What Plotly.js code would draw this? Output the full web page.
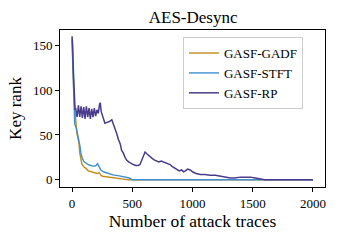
<!DOCTYPE html>
<html><head><meta charset="utf-8">
<script src="https://cdn.plot.ly/plotly-3.0.1.min.js"></script>
<style>html,body{margin:0;padding:0;background:#fff;}#c{width:340px;height:240px;}</style>
</head><body><div id="c"></div>
<script>
const gadfX = [0,5,10,17,25,31,40,50,58,64,72,81,100,114,135,156,190,210,225,240,253,300,336,380,433,470,2000];
const gadfY = [158,130,110,89,75,65,52,46,40,30,22,18,14,13,10,9,8,7,8,5,4,3,2.6,2,1,0,0];
const stftX = [0,5,10,15,22,35,45,55,65,73,85,100,120,142,183,200,211,220,239,260,295,340,392,440,475,500,2000];
const stftY = [155,130,100,80,62,58,52,45,38,30,24,20,18,16.5,15,16,18,16,11,9,7.4,5.5,4.4,3,2,0,0];
const rpX = [0,5,10,15,20,25,30,42,53,64,75,86,97,108,119,130,141,152,163,174,185,196,207,218,228,234,242,252,262,273,290,311,330,353,370,385,400,411,425,440,453,470,490,508,530,550,564,580,595,606,620,635,648,665,685,703,720,740,758,775,795,814,830,850,870,890,910,925,940,960,981,1000,1030,1064,1100,1148,1190,1231,1270,1314,1350,1398,1440,1481,1520,1564,1600,2000];
const rpY = [160,150,125,100,85,78,80,70,83,70,82,69,81,68,82,70,80,68,79,70,80,71,78,74,84,86,76,71,66,63,64,65,67,59,52,45,40,33,30,25,22,20,18,17,16,16,17,22,28,31,29,27,26,24,22,21,20,21,20,19,18,17,15,13,11,10,11,9,10,12,11,9,7,6,6,5,5,4,3,2,2,3,3,3,2,1,0,0];
const names = ["GASF-GADF","GASF-STFT","GASF-RP"];
const colors = ["#c18c1c","#3f8fd2","#4b3b8c"];
const xTicks = [0,500,1000,1500,2000];
const yTicks = [0,50,100,150];

const F = "Liberation Serif, Times New Roman, serif";
const traces = [
  {x: gadfX, y: gadfY, name: names[0], mode: "lines", line: {color: colors[0], width: 1.4}},
  {x: stftX, y: stftY, name: names[1], mode: "lines", line: {color: colors[1], width: 1.4}},
  {x: rpX, y: rpY, name: names[2], mode: "lines", line: {color: colors[2], width: 1.5}}
];
const axisCommon = {showgrid: false, zeroline: false, showline: true, mirror: true, linecolor: "#000", linewidth: 1,
  ticks: "outside", ticklen: 4, tickwidth: 1, tickcolor: "#000", tickfont: {family: F, size: 13, color: "#000"}};
const layout = {
  width: 340, height: 240,
  margin: {l: 60, r: 15, t: 30, b: 53},
  paper_bgcolor: "#fff", plot_bgcolor: "#fff",
  title: {text: "AES-Desync", font: {family: F, size: 17, color: "#000"}, x: 0.568, xanchor: "center", y: 0.93, yanchor: "middle"},
  xaxis: Object.assign({}, axisCommon, {range: [-100, 2100], tickvals: xTicks, ticktext: xTicks.map(String),
    title: {text: "Number of attack traces", font: {family: F, size: 17.5, color: "#000"}, standoff: 4}}),
  yaxis: Object.assign({}, axisCommon, {range: [-8, 167], tickvals: yTicks, ticktext: yTicks.map(String),
    title: {text: "Key rank", font: {family: F, size: 17, color: "#000"}, standoff: 6}}),
  showlegend: true,
  legend: {x: 0.464, y: 0.955, xanchor: "left", yanchor: "top", bgcolor: "rgba(255,255,255,0.9)",
    bordercolor: "#cccccc", borderwidth: 1, font: {family: F, size: 13, color: "#000"}, tracegroupgap: 0}
};
Plotly.newPlot("c", traces, layout, {staticPlot: true, displayModeBar: false});
</script></body></html>
